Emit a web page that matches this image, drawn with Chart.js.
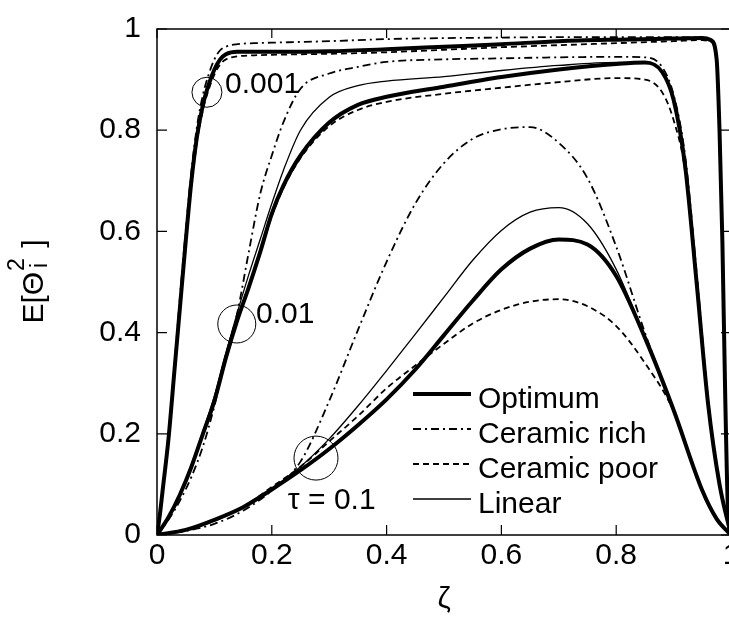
<!DOCTYPE html>
<html>
<head>
<meta charset="utf-8">
<script src="https://cdn.jsdelivr.net/npm/chart.js@4.4.1/dist/chart.umd.min.js"></script>
<style>
  html, body { margin: 0; padding: 0; overflow: hidden; background: #fff; }
  #wrap { width: 760px; height: 628px; }
</style>
</head>
<body>
<div id="wrap"><canvas id="chart"></canvas></div>
<script>
// zeta positions, one grid per tau
const xTau001 = [0, 0.005, 0.01, 0.02, 0.03, 0.04, 0.05, 0.06, 0.07, 0.08, 0.09, 0.1, 0.11, 0.12, 0.14, 0.17, 0.2, 0.3, 0.4, 0.5, 0.6, 0.7, 0.8, 0.9, 0.95, 0.965, 0.975, 0.98, 0.985, 0.99, 0.995, 1];
const xTau01 = [0, 0.02, 0.04, 0.06, 0.08, 0.1, 0.12, 0.14, 0.16, 0.18, 0.2, 0.22, 0.25, 0.3, 0.35, 0.4, 0.5, 0.6, 0.7, 0.8, 0.85, 0.88, 0.9, 0.92, 0.94, 0.96, 0.98, 1];
const xTau1 = [0, 0.05, 0.1, 0.15, 0.2, 0.25, 0.3, 0.35, 0.4, 0.45, 0.5, 0.55, 0.6, 0.65, 0.7, 0.75, 0.8, 0.85, 0.9, 0.95, 0.975, 1];

// tau = 0.001
const optimum001 = [0, 0.04, 0.09, 0.19, 0.32, 0.45, 0.58, 0.70, 0.79, 0.85, 0.89, 0.92, 0.94, 0.95, 0.955, 0.955, 0.955, 0.956, 0.96, 0.965, 0.97, 0.976, 0.979, 0.981, 0.982, 0.978, 0.94, 0.8, 0.58, 0.27, 0.04, 0];
const rich001 = [0, 0.04, 0.09, 0.2, 0.33, 0.47, 0.6, 0.72, 0.81, 0.87, 0.91, 0.94, 0.958, 0.965, 0.97, 0.972, 0.973, 0.976, 0.98, 0.982, 0.983, 0.984, 0.984, 0.984, 0.983, 0.978, 0.94, 0.8, 0.58, 0.27, 0.04, 0];
const poor001 = [0, 0.04, 0.09, 0.19, 0.32, 0.45, 0.58, 0.69, 0.78, 0.84, 0.88, 0.91, 0.93, 0.94, 0.946, 0.948, 0.949, 0.951, 0.954, 0.959, 0.964, 0.968, 0.972, 0.976, 0.978, 0.975, 0.94, 0.8, 0.58, 0.27, 0.04, 0];
const linear001 = [0, 0.04, 0.09, 0.19, 0.32, 0.45, 0.58, 0.70, 0.79, 0.85, 0.89, 0.92, 0.94, 0.95, 0.954, 0.954, 0.954, 0.955, 0.958, 0.963, 0.969, 0.975, 0.979, 0.981, 0.982, 0.978, 0.94, 0.8, 0.58, 0.27, 0.04, 0];

// tau = 0.01
const optimum01 = [0, 0.035, 0.08, 0.135, 0.2, 0.265, 0.35, 0.425, 0.49, 0.56, 0.635, 0.69, 0.75, 0.815, 0.85, 0.866, 0.886, 0.905, 0.92, 0.931, 0.934, 0.915, 0.86, 0.73, 0.5, 0.26, 0.1, 0];
const rich01 = [0, 0.03, 0.068, 0.115, 0.175, 0.255, 0.355, 0.44, 0.56, 0.675, 0.75, 0.815, 0.882, 0.912, 0.925, 0.935, 0.94, 0.942, 0.944, 0.945, 0.944, 0.925, 0.87, 0.75, 0.52, 0.27, 0.1, 0];
const poor01 = [0, 0.035, 0.08, 0.135, 0.2, 0.265, 0.35, 0.425, 0.49, 0.56, 0.63, 0.685, 0.745, 0.808, 0.84, 0.856, 0.872, 0.884, 0.895, 0.903, 0.9, 0.875, 0.82, 0.72, 0.5, 0.26, 0.1, 0];
const linear01 = [0, 0.036, 0.082, 0.14, 0.205, 0.275, 0.36, 0.44, 0.515, 0.585, 0.655, 0.72, 0.8, 0.865, 0.888, 0.897, 0.906, 0.918, 0.928, 0.934, 0.934, 0.915, 0.86, 0.73, 0.5, 0.26, 0.1, 0];

// tau = 0.1
const optimum1 = [0, 0.01, 0.03, 0.055, 0.09, 0.128, 0.17, 0.217, 0.268, 0.327, 0.395, 0.463, 0.525, 0.566, 0.584, 0.574, 0.512, 0.39, 0.247, 0.088, 0.032, 0];
const rich1 = [0, 0.008, 0.022, 0.048, 0.088, 0.145, 0.265, 0.405, 0.54, 0.655, 0.735, 0.783, 0.802, 0.806, 0.775, 0.705, 0.57, 0.40, 0.247, 0.088, 0.032, 0];
const poor1 = [0, 0.01, 0.028, 0.055, 0.095, 0.135, 0.185, 0.235, 0.29, 0.335, 0.378, 0.418, 0.445, 0.461, 0.466, 0.452, 0.413, 0.34, 0.245, 0.088, 0.032, 0];
const linear1 = [0, 0.01, 0.03, 0.055, 0.092, 0.135, 0.19, 0.255, 0.325, 0.397, 0.47, 0.543, 0.602, 0.638, 0.647, 0.615, 0.525, 0.39, 0.247, 0.088, 0.032, 0];

const tickValues = [0, 0.2, 0.4, 0.6, 0.8, 1];
const seriesNames = ['Optimum', 'Ceramic rich', 'Ceramic poor', 'Linear'];
const tauLabels = ['0.001', '0.01', '\u03c4 = 0.1'];

const FONT = '"Liberation Sans", Arial, sans-serif';

// line look for each series
const styles = {
    'Optimum': { width: 4, dash: [] },
    'Ceramic rich': { width: 1.8, dash: [8, 4, 2, 4] },
    'Ceramic poor': { width: 1.8, dash: [6, 4] },
    'Linear': { width: 1.3, dash: [] }
};

const groups = [
    { x: xTau001, ys: [optimum001, rich001, poor001, linear001] },
    { x: xTau01, ys: [optimum01, rich01, poor01, linear01] },
    { x: xTau1, ys: [optimum1, rich1, poor1, linear1] }
];

const datasets = [];
groups.forEach(g => {
    g.ys.forEach((ys, i) => {
        const st = styles[seriesNames[i]];
        datasets.push({
            label: seriesNames[i],
            data: g.x.map((v, k) => ({ x: v, y: ys[k] })),
            borderColor: '#000',
            borderWidth: st.width,
            borderDash: st.dash,
            pointRadius: 0,
            fill: false,
            cubicInterpolationMode: 'monotone',
            order: i === 0 ? 0 : 1
        });
    });
});

// circles marking each tau family (data coords) and the text next to them
const markers = [
    { x: 0.087, y: 0.875, r: 15, tx: 0.1185, ty: 0.8735 },
    { x: 0.139, y: 0.417, r: 19, tx: 0.1725, ty: 0.419 },
    { x: 0.277, y: 0.152, r: 22, tx: 0.228, ty: 0.051 }
];

const tickText = v => String(Math.round(v * 10) / 10);

const framePlugin = {
    id: 'frame',
    afterDatasetsDraw(chart) {
        const { ctx, chartArea: a, scales: { x, y } } = chart;
        ctx.save();
        ctx.strokeStyle = '#000';
        ctx.setLineDash([]);
        ctx.lineWidth = 1.5;
        ctx.strokeRect(a.left, a.top, a.right - a.left, a.bottom - a.top);
        // ticks pointing into the plot, on all four sides
        ctx.lineWidth = 1.2;
        ctx.beginPath();
        tickValues.forEach(v => {
            const px = x.getPixelForValue(v);
            ctx.moveTo(px, a.bottom); ctx.lineTo(px, a.bottom - 10);
            ctx.moveTo(px, a.top); ctx.lineTo(px, a.top + 9);
            const py = y.getPixelForValue(v);
            ctx.moveTo(a.left, py); ctx.lineTo(a.left + 10, py);
            ctx.moveTo(a.right, py); ctx.lineTo(a.right - 10, py);
        });
        ctx.stroke();

        // tau markers
        ctx.lineWidth = 1;
        ctx.fillStyle = '#000';
        ctx.font = '30px ' + FONT;
        ctx.textBaseline = 'alphabetic';
        ctx.textAlign = 'left';
        markers.forEach((m, i) => {
            ctx.beginPath();
            ctx.arc(x.getPixelForValue(m.x), y.getPixelForValue(m.y), m.r, 0, Math.PI * 2);
            ctx.stroke();
            ctx.fillText(tauLabels[i], x.getPixelForValue(m.tx), y.getPixelForValue(m.ty));
        });

        // legend inside the plot
        const lx = a.left + 256, tx = a.left + 321;
        seriesNames.forEach((name, i) => {
            const base = a.top + 379 + i * 35;
            const st = styles[name];
            ctx.beginPath();
            ctx.lineWidth = st.width;
            ctx.setLineDash(st.dash);
            ctx.moveTo(lx, base - 14);
            ctx.lineTo(lx + 58, base - 14);
            ctx.stroke();
            ctx.setLineDash([]);
            ctx.fillText(name, tx, base);
        });
        ctx.restore();
    }
};

// y axis title E[Θ_i^2], drawn by hand for the stacked sub/superscript
const yTitlePlugin = {
    id: 'yTitle',
    afterDraw(chart) {
        const { ctx, chartArea: a } = chart;
        const big = '30px ' + FONT, small = '23px ' + FONT;
        ctx.save();
        ctx.translate(33, (a.top + a.bottom) / 2);
        ctx.rotate(-Math.PI / 2);
        ctx.fillStyle = '#000';
        ctx.textBaseline = 'alphabetic';
        ctx.textAlign = 'left';
        ctx.font = big;
        const w1 = ctx.measureText('E[\u0398').width;
        const w3 = ctx.measureText(' ]').width;
        ctx.font = small;
        const w2 = Math.max(ctx.measureText('2').width, ctx.measureText('i').width) + 2;
        let cx = -(w1 + w2 + w3) / 2;
        ctx.font = big;
        ctx.fillText('E[\u0398', cx, 10);
        cx += w1 + 1;
        ctx.font = small;
        ctx.fillText('2', cx, -9);
        ctx.fillText('i', cx + 3, 14);
        cx += w2;
        ctx.font = big;
        ctx.fillText(' ]', cx, 10);
        ctx.restore();
    }
};

new Chart(document.getElementById('chart'), {
    type: 'line',
    data: { datasets: datasets },
    options: {
        responsive: true,
        maintainAspectRatio: false,
        animation: false,
        layout: { padding: { top: 29, right: 29, left: 0, bottom: 0 } },
        plugins: {
            legend: { display: false },
            tooltip: { enabled: false }
        },
        scales: {
            x: {
                type: 'linear',
                min: 0,
                max: 1,
                afterBuildTicks: s => { s.ticks = tickValues.map(v => ({ value: v })); },
                afterFit: s => { s.height = 93; s.paddingLeft = 0; s.paddingRight = 0; },
                ticks: { color: '#000', font: { size: 30, family: FONT }, padding: 3, callback: tickText },
                grid: { display: false, drawTicks: false },
                border: { display: false },
                title: {
                    display: true,
                    text: '\u03b6',
                    color: '#000',
                    font: { size: 30, family: FONT },
                    padding: { top: 0, bottom: 10 }
                }
            },
            y: {
                min: 0,
                max: 1,
                afterBuildTicks: s => { s.ticks = tickValues.map(v => ({ value: v })); },
                afterFit: s => { s.width = 157; s.paddingTop = 0; s.paddingBottom = 0; },
                ticks: { color: '#000', font: { size: 30, family: FONT }, padding: 16, callback: tickText },
                grid: { display: false, drawTicks: false },
                border: { display: false }
            }
        }
    },
    plugins: [framePlugin, yTitlePlugin]
});
</script>
</body>
</html>
